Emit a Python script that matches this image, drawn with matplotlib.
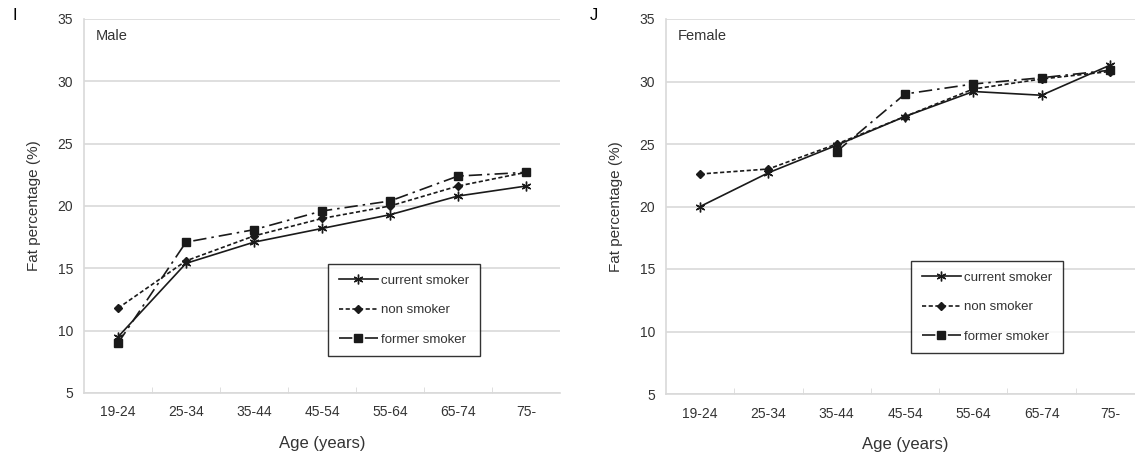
import matplotlib.pyplot as plt
import numpy as np

plt.rcParams['font.family'] = ['Liberation Sans', 'DejaVu Sans']

ages = ['19-24', '25-34', '35-44', '45-54', '55-64', '65-74', '75-']

male_current = [9.5, 15.4, 17.1, 18.2, 19.3, 20.8, 21.6]
male_non = [11.8, 15.6, 17.6, 19.0, 20.0, 21.6, 22.7]
male_former = [9.0, 17.1, 18.1, 19.6, 20.4, 22.4, 22.7]

female_current = [20.0, 22.7, 24.9, 27.2, 29.2, 28.9, 31.3]
female_non = [22.6, 23.0, 25.0, 27.2, 29.4, 30.2, 30.8]
female_former = [np.nan, np.nan, 24.4, 29.0, 29.8, 30.3, 30.9]

LINE = '#1a1a1a'
GRID = '#d9d9d9'
TXT = '#333333'

fig = plt.figure(figsize=(11.35, 4.54), dpi=100)
W, H = 1135, 454


def panel(rect, current, non, former, sex, letter, letter_x, leg_xy):
    l, t, r, b = rect
    ax = fig.add_axes([l / W, 1 - b / H, (r - l) / W, (b - t) / H])
    x = np.arange(len(ages))
    ax.plot(x, current, color=LINE, lw=1.2, marker=(6, 2, 0), ms=7,
            mew=1.0, label='current smoker')
    ax.plot(x, non, color=LINE, lw=1.2, ls=(0, (2.5, 1.5)), marker='D', ms=4,
            label='non smoker')
    ax.plot(x, former, color=LINE, lw=1.2, ls=(0, (8, 3, 1.5, 3)), marker='s',
            ms=6, label='former smoker')

    ax.set_xlim(-0.5, len(ages) - 0.5)
    ax.set_ylim(5, 35)
    ax.set_yticks(range(5, 36, 5))
    ax.set_xticks(x)
    ax.set_xticklabels(ages)
    ax.set_xticks(np.arange(0.5, len(ages) - 0.5), minor=True)
    ax.tick_params(axis='x', which='major', length=0, pad=9,
                   labelsize=10, labelcolor=TXT)
    ax.tick_params(axis='x', which='minor', length=4, direction='in',
                   color=GRID)
    ax.tick_params(axis='y', length=0, pad=8, labelsize=10, labelcolor=TXT)
    ax.yaxis.grid(True, color=GRID, lw=1.2)
    ax.set_axisbelow(True)
    for s in ['top', 'right']:
        ax.spines[s].set_visible(False)
    for s in ['left', 'bottom']:
        ax.spines[s].set_color(GRID)
        ax.spines[s].set_linewidth(1.2)

    ax.set_xlabel('Age (years)', fontsize=12, color=TXT, labelpad=12)
    ax.set_ylabel('Fat percentage (%)', fontsize=11, color=TXT, labelpad=12)
    ax.text(12 / (r - l), 1 - 17 / (b - t), sex, transform=ax.transAxes,
            fontsize=10.5, color=TXT, va='center', ha='left')
    fig.text(letter_x / W, 1 - 15 / H, letter, fontsize=12, color='black',
             va='center', ha='left')

    leg = ax.legend(loc='upper left',
                    bbox_to_anchor=(leg_xy[0] / W, 1 - leg_xy[1] / H),
                    bbox_transform=fig.transFigure, fontsize=9.5,
                    frameon=True, fancybox=False, handlelength=3.0,
                    handletextpad=0.25, labelspacing=1.3, borderpad=0.8,
                    borderaxespad=0)
    leg.get_frame().set_edgecolor('black')
    leg.get_frame().set_linewidth(1.0)
    for txt in leg.get_texts():
        txt.set_color(TXT)
    return ax


panel((84, 19, 560, 393), male_current, male_non, male_former,
      'Male', 'I', 12, (328, 264))
panel((666, 19, 1144, 394), female_current, female_non, female_former,
      'Female', 'J', 590, (911, 261))

plt.savefig('out.png', dpi=100)
